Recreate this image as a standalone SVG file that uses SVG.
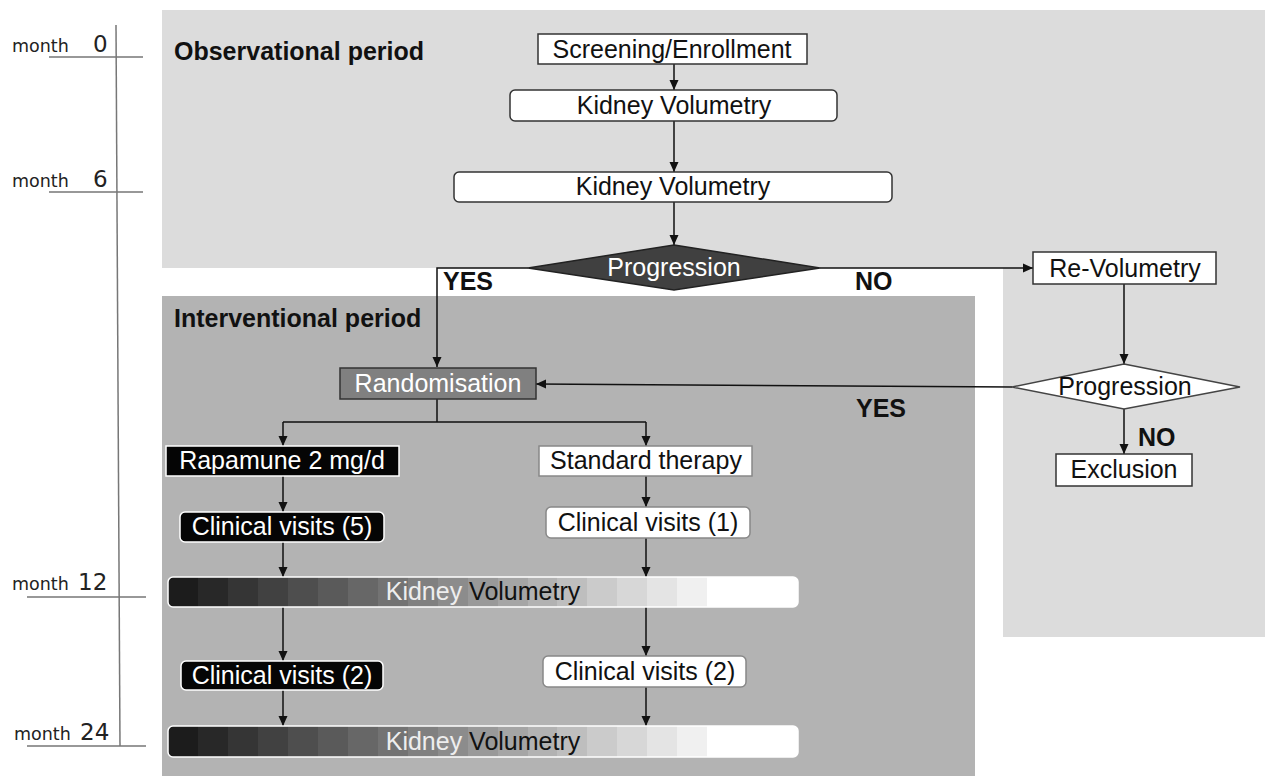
<svg xmlns="http://www.w3.org/2000/svg" width="1265" height="776" viewBox="0 0 1265 776">
<defs>
<marker id="ah" markerUnits="userSpaceOnUse" markerWidth="10" markerHeight="10" refX="10" refY="5" orient="auto">
<path d="M0,0.5 L10,5 L0,9.5 z" fill="#111"/>
</marker>
<linearGradient id="bar" x1="0" y1="0" x2="1" y2="0">
<stop offset="0" stop-color="#1c1c1c"/><stop offset="0.0476" stop-color="#1c1c1c"/>
<stop offset="0.0476" stop-color="#282828"/><stop offset="0.0951" stop-color="#282828"/>
<stop offset="0.0951" stop-color="#353535"/><stop offset="0.1427" stop-color="#353535"/>
<stop offset="0.1427" stop-color="#414141"/><stop offset="0.1902" stop-color="#414141"/>
<stop offset="0.1902" stop-color="#4e4e4e"/><stop offset="0.2378" stop-color="#4e4e4e"/>
<stop offset="0.2378" stop-color="#5a5a5a"/><stop offset="0.2853" stop-color="#5a5a5a"/>
<stop offset="0.2853" stop-color="#676767"/><stop offset="0.3329" stop-color="#676767"/>
<stop offset="0.3329" stop-color="#737373"/><stop offset="0.3804" stop-color="#737373"/>
<stop offset="0.3804" stop-color="#808080"/><stop offset="0.428" stop-color="#808080"/>
<stop offset="0.428" stop-color="#8c8c8c"/><stop offset="0.4756" stop-color="#8c8c8c"/>
<stop offset="0.4756" stop-color="#999999"/><stop offset="0.5231" stop-color="#999999"/>
<stop offset="0.5231" stop-color="#a5a5a5"/><stop offset="0.5707" stop-color="#a5a5a5"/>
<stop offset="0.5707" stop-color="#b2b2b2"/><stop offset="0.6182" stop-color="#b2b2b2"/>
<stop offset="0.6182" stop-color="#bebebe"/><stop offset="0.6658" stop-color="#bebebe"/>
<stop offset="0.6658" stop-color="#cbcbcb"/><stop offset="0.7133" stop-color="#cbcbcb"/>
<stop offset="0.7133" stop-color="#d7d7d7"/><stop offset="0.7609" stop-color="#d7d7d7"/>
<stop offset="0.7609" stop-color="#e4e4e4"/><stop offset="0.8084" stop-color="#e4e4e4"/>
<stop offset="0.8084" stop-color="#f0f0f0"/><stop offset="0.856" stop-color="#f0f0f0"/>
<stop offset="0.856" stop-color="#ffffff"/><stop offset="1" stop-color="#ffffff"/>
</linearGradient>
</defs>
<style>
.t{font-family:"Liberation Sans",Arial,sans-serif;font-size:25px;fill:#111;text-anchor:middle}
.w{fill:#fff}
.b{font-family:"Liberation Sans",Arial,sans-serif;font-size:25px;font-weight:bold;fill:#111}
.m{font-family:"DejaVu Sans",Verdana,sans-serif;font-size:17.5px;fill:#222}
.n{font-family:"DejaVu Sans",Verdana,sans-serif;font-size:23px;fill:#222}
.box{fill:#fff;stroke:#333;stroke-width:1.5}
.gbox{fill:#fff;stroke:#888;stroke-width:1.5}
.blk{fill:#050505;stroke:#fff;stroke-width:1.5}
.c{fill:none;stroke:#111;stroke-width:1.5}
.ca{fill:none;stroke:#111;stroke-width:1.5;marker-end:url(#ah)}
.tl{stroke:#777;stroke-width:1.5;fill:none}
</style>

<g id="background">
<rect x="162" y="10" width="1103" height="258" fill="#dcdcdc"/>
<rect x="1003" y="10" width="262" height="627" fill="#dcdcdc"/>
<rect x="162" y="296" width="813" height="480" fill="#b3b3b3"/>
<text class="b" x="174" y="60">Observational period</text>
<text class="b" x="174" y="327">Interventional period</text>
</g>

<g id="timeline">
<path class="tl" d="M116,25 L120,746"/>
<path class="tl" d="M49,57 H143 M49,192 H143 M27,597 H146 M27,746 H146"/>
<text class="m" x="12" y="52">month</text><text class="n" x="93" y="52">0</text>
<text class="m" x="12" y="187">month</text><text class="n" x="93" y="187">6</text>
<text class="m" x="12" y="590">month</text><text class="n" x="78" y="590">12</text>
<text class="m" x="14" y="740">month</text><text class="n" x="80" y="740">24</text>
</g>

<g id="connectors">
<path class="ca" d="M674,64 V90"/>
<path class="ca" d="M674,121 V172"/>
<path class="ca" d="M674,202 V245"/>
<path class="ca" d="M528,268 H437 V367"/>
<path class="ca" d="M820,268 H1033"/>
<path class="ca" d="M1124,284 V364"/>
<path class="ca" d="M1012,387 L536,384"/>
<path class="ca" d="M1124,409 V454"/>
<path class="c" d="M437,399 V422 M283,422 H646"/>
<path class="ca" d="M283,422 V446"/>
<path class="ca" d="M646,422 V446"/>
<path class="ca" d="M283,476 V512"/>
<path class="ca" d="M646,476 V507"/>
<path class="ca" d="M283,542 V577"/>
<path class="ca" d="M646,538 V577"/>
<path class="ca" d="M283,607 V661"/>
<path class="ca" d="M646,607 V656"/>
<path class="ca" d="M283,690 V726"/>
<path class="ca" d="M646,687 V726"/>
<text class="b" x="443" y="290">YES</text>
<text class="b" x="855" y="290">NO</text>
<text class="b" x="856" y="417">YES</text>
<text class="b" x="1138" y="446">NO</text>
</g>

<g id="screening">
<rect class="box" x="538" y="34" width="269" height="30"/>
<text class="t" x="672" y="58">Screening/Enrollment</text>
</g>
<g id="kv1">
<rect class="box" x="510" y="90" width="327" height="31" rx="5"/>
<text class="t" x="674" y="114">Kidney Volumetry</text>
</g>
<g id="kv2">
<rect class="box" x="454" y="172" width="438" height="30" rx="5"/>
<text class="t" x="673" y="195">Kidney Volumetry</text>
</g>
<g id="progression1">
<path d="M674,245 L820,268 L674,290 L528,268 z" fill="#404040" stroke="#222" stroke-width="1.5"/>
<text class="t w" x="674" y="276">Progression</text>
</g>
<g id="revolumetry">
<rect class="box" x="1033" y="252" width="183" height="32"/>
<text class="t" x="1125" y="277">Re-Volumetry</text>
</g>
<g id="progression2">
<path d="M1124,364 L1240,387 L1124,409 L1012,387 z" fill="#fff" stroke="#444" stroke-width="1.5"/>
<text class="t" x="1125" y="395">Progression</text>
</g>
<g id="exclusion">
<rect class="box" x="1056" y="454" width="136" height="32"/>
<text class="t" x="1124" y="478">Exclusion</text>
</g>
<g id="randomisation">
<rect x="340" y="368" width="196" height="31" fill="#808080" stroke="#333" stroke-width="1.5"/>
<text class="t w" x="438" y="392">Randomisation</text>
</g>
<g id="rapamune">
<rect class="blk" x="166" y="446" width="233" height="30"/>
<text class="t w" x="282" y="469">Rapamune 2 mg/d</text>
</g>
<g id="standard">
<rect class="gbox" x="539" y="446" width="213" height="30"/>
<text class="t" x="646" y="469">Standard therapy</text>
</g>
<g id="cv5">
<rect class="blk" x="180" y="512" width="204" height="30" rx="5"/>
<text class="t w" x="282" y="535">Clinical visits (5)</text>
</g>
<g id="cv1">
<rect class="gbox" x="546" y="507" width="204" height="31" rx="5"/>
<text class="t" x="648" y="531">Clinical visits (1)</text>
</g>
<g id="kv3">
<rect x="168" y="577" width="630" height="30" rx="5" fill="url(#bar)" stroke="#fff" stroke-width="1.5"/>
<text class="t" x="483" y="600"><tspan fill="#eeeeee">Kidney</tspan> <tspan fill="#111">Volumetry</tspan></text>
</g>
<g id="cv2a">
<rect class="blk" x="181" y="661" width="202" height="29" rx="5"/>
<text class="t w" x="282" y="684">Clinical visits (2)</text>
</g>
<g id="cv2b">
<rect class="gbox" x="543" y="656" width="203" height="31" rx="5"/>
<text class="t" x="645" y="680">Clinical visits (2)</text>
</g>
<g id="kv4">
<rect x="168" y="726" width="630" height="31" rx="5" fill="url(#bar)" stroke="#fff" stroke-width="1.5"/>
<text class="t" x="483" y="750"><tspan fill="#eeeeee">Kidney</tspan> <tspan fill="#111">Volumetry</tspan></text>
</g>
</svg>
